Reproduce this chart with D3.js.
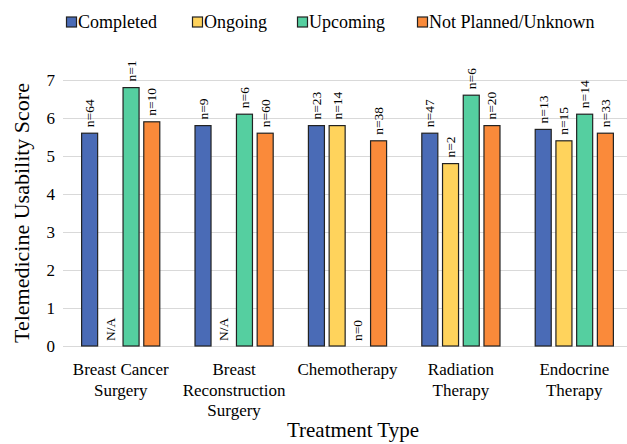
<!DOCTYPE html>
<html>
<head>
<meta charset="utf-8">
<script src="https://cdn.jsdelivr.net/npm/d3@7"></script>
<style>
  html, body { margin: 0; padding: 0; background: #fff; }
  svg { display: block; font-family: "Liberation Serif", "Times New Roman", serif; }
</style>
</head>
<body>
<svg id="chart" width="627" height="444"></svg>
<script>
// Treatment types (label lines) and the four treatment-status series
const categories = [
  ["Breast Cancer", "Surgery"],
  ["Breast", "Reconstruction", "Surgery"],
  ["Chemotherapy"],
  ["Radiation", "Therapy"],
  ["Endocrine", "Therapy"]
];
const seriesNames = ["Completed", "Ongoing", "Upcoming", "Not Planned/Unknown"];

// Mean usability scores (null = no respondents, shown as N/A)
const completed  = [5.6, 5.8, 5.8, 5.6, 5.7];
const ongoing    = [null, null, 5.8, 4.8, 5.4];
const upcoming   = [6.8, 6.1, 0, 6.6, 6.1];
const notPlanned = [5.9, 5.6, 5.4, 5.8, 5.6];

// Respondent counts per bar
const completedN  = [64, 9, 23, 47, 13];
const ongoingN    = [null, null, 14, 2, 15];
const upcomingN   = [1, 6, 0, 6, 14];
const notPlannedN = [10, 60, 38, 20, 33];

const yTicks = [0, 1, 2, 3, 4, 5, 6, 7];

const colors = ["#4a6bb6", "#ffd35c", "#55cfa0", "#fa8a3a"];

const values = [completed, ongoing, upcoming, notPlanned];
const counts = [completedN, ongoingN, upcomingN, notPlannedN];

const svg = d3.select("#chart");
const plot = { left: 64, right: 631, top: 80, bottom: 346 };

const x0 = d3.scaleBand()
  .domain(d3.range(categories.length))
  .range([plot.left, plot.right])
  .padding(0);

const x1 = d3.scaleBand()
  .domain(d3.range(seriesNames.length))
  .range([0, x0.bandwidth()])
  .paddingInner(0.227)
  .paddingOuter(0.85);

const y = d3.scaleLinear().domain([0, 7]).range([plot.bottom, plot.top]);

// Gridlines and y tick labels
const yAxis = svg.append("g")
  .attr("transform", `translate(${plot.left - 1},0)`)
  .call(d3.axisLeft(y).tickValues(yTicks).tickFormat(d3.format("d"))
    .tickSize(-(627 - plot.left + 2)).tickPadding(8));
yAxis.select(".domain").remove();
yAxis.selectAll(".tick line").attr("stroke", "#d9d9d9").attr("stroke-width", 1);
yAxis.selectAll(".tick text")
  .attr("font-size", 17).attr("fill", "#000")
  .attr("font-family", "Liberation Serif, serif");

// Category labels on the x axis
const xAxis = svg.append("g")
  .attr("transform", `translate(0,${plot.bottom})`)
  .call(d3.axisBottom(x0).tickSize(0).tickFormat(() => ""));
xAxis.select(".domain").remove();
xAxis.selectAll(".tick text").remove();
xAxis.selectAll(".tick").each(function (i) {
  const t = d3.select(this).append("text")
    .attr("text-anchor", "middle")
    .attr("font-size", 17)
    .attr("fill", "#000")
    .attr("font-family", "Liberation Serif, serif");
  categories[i].forEach((line, k) => {
    t.append("tspan").attr("x", 0).attr("y", 29 + k * 20.7).text(line);
  });
});

// Bars and their count labels
const groups = svg.append("g").selectAll("g")
  .data(d3.range(categories.length))
  .join("g")
  .attr("transform", i => `translate(${x0(i)},0)`);

groups.each(function (i) {
  const g = d3.select(this);
  seriesNames.forEach((name, s) => {
    const v = values[s][i];
    const n = counts[s][i];
    const bx = x1(s);
    const cx = bx + x1.bandwidth() / 2;
    if (v !== null && v > 0) {
      g.append("rect")
        .attr("x", bx)
        .attr("y", y(v))
        .attr("width", x1.bandwidth())
        .attr("height", y(0) - y(v))
        .attr("fill", colors[s])
        .attr("stroke", "#222")
        .attr("stroke-width", 1.2);
    }
    const label = v === null ? "N/A" : `n=${n}`;
    const top = v === null ? y(0) : y(v);
    const gap = (v === null || v === 0) ? 5 : 6;
    g.append("text")
      .attr("transform", `translate(${cx},${top - gap}) rotate(-90)`)
      .attr("text-anchor", "start")
      .attr("dominant-baseline", "central")
      .attr("font-size", 13.5)
      .attr("fill", "#000")
      .text(label);
  });
});

// Axis titles
svg.append("text")
  .attr("transform", `translate(21,${(plot.top + plot.bottom) / 2}) rotate(-90)`)
  .attr("text-anchor", "middle")
  .attr("dominant-baseline", "central")
  .attr("font-size", 22)
  .text("Telemedicine Usability Score");

svg.append("text")
  .attr("x", 353)
  .attr("y", 437)
  .attr("text-anchor", "middle")
  .attr("font-size", 21)
  .text("Treatment Type");

// Legend
const legendX = [66, 192, 297, 417];
const legend = svg.append("g").selectAll("g")
  .data(seriesNames)
  .join("g")
  .attr("transform", (d, i) => `translate(${legendX[i]},0)`);
legend.append("rect")
  .attr("x", 0.5).attr("y", 17)
  .attr("width", 10).attr("height", 10)
  .attr("fill", (d, i) => colors[i])
  .attr("stroke", "#222").attr("stroke-width", 1.2);
legend.append("text")
  .attr("x", 12).attr("y", 28)
  .attr("font-size", 18)
  .text(d => d);
</script>
</body>
</html>
